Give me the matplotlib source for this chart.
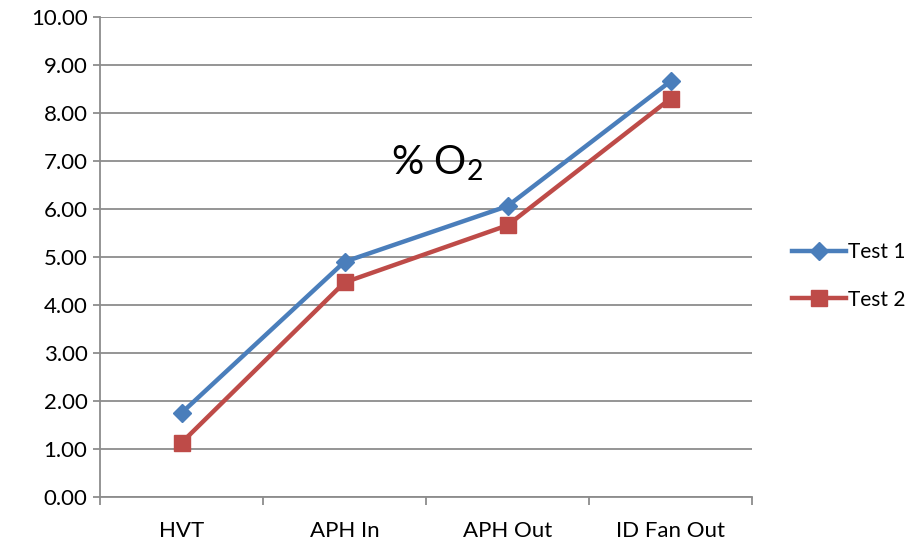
import matplotlib
matplotlib.use("Agg")
import matplotlib.pyplot as plt

plt.rcParams['font.family'] = ['Lato', 'DejaVu Sans']

categories = ['HVT', 'APH In', 'APH Out', 'ID Fan Out']
test1 = [1.75, 4.90, 6.06, 8.66]
test2 = [1.13, 4.47, 5.66, 8.30]
yticks = [0, 1, 2, 3, 4, 5, 6, 7, 8, 9, 10]

W, H = 922, 544
fig = plt.figure(figsize=(W / 100, H / 100), dpi=100)
ax = fig.add_axes([100 / W, (H - 497) / H, 652 / W, 480 / H])

x = list(range(len(categories)))
ax.plot(x, test1, color='#4A7EBB', lw=3.2, marker='D', ms=9.5,
        label='Test 1', zorder=3)
ax.plot(x, test2, color='#BE4B48', lw=3.2, marker='s', ms=11,
        label='Test 2', zorder=3)

ax.set_xlim(-0.5, len(categories) - 0.5)
ax.set_ylim(0, 10)
ax.set_yticks(yticks)
ax.set_yticklabels(['%.2f' % v for v in yticks])
ax.set_xticks(x)
ax.set_xticklabels(categories)
ax.set_xticks([i - 0.5 for i in range(len(categories) + 1)], minor=True)

gray = '#8C8C8C'
ax.grid(axis='y', color=gray, lw=1.3)
ax.set_axisbelow(True)
for s in ['top', 'right']:
    ax.spines[s].set_visible(False)
for s in ['left', 'bottom']:
    ax.spines[s].set_color(gray)
    ax.spines[s].set_linewidth(1.3)
ax.tick_params(axis='y', length=5, color=gray, width=1.3, labelsize=16, pad=4)
ax.tick_params(axis='x', which='major', length=0, labelsize=16, pad=17)
ax.tick_params(axis='x', which='minor', length=6, color=gray, width=1.3)

ax.text(1.57, 6.95, '% O$_\\mathregular{2}$', fontsize=29, ha='center',
        va='center', zorder=4)

fig.legend(*ax.get_legend_handles_labels(), loc='center left',
           bbox_to_anchor=(773 / W, (H - 276) / H), frameon=False,
           fontsize=15, handlelength=2.6, handletextpad=0.1, labelspacing=1.3)

fig.savefig('out.png', dpi=100)
